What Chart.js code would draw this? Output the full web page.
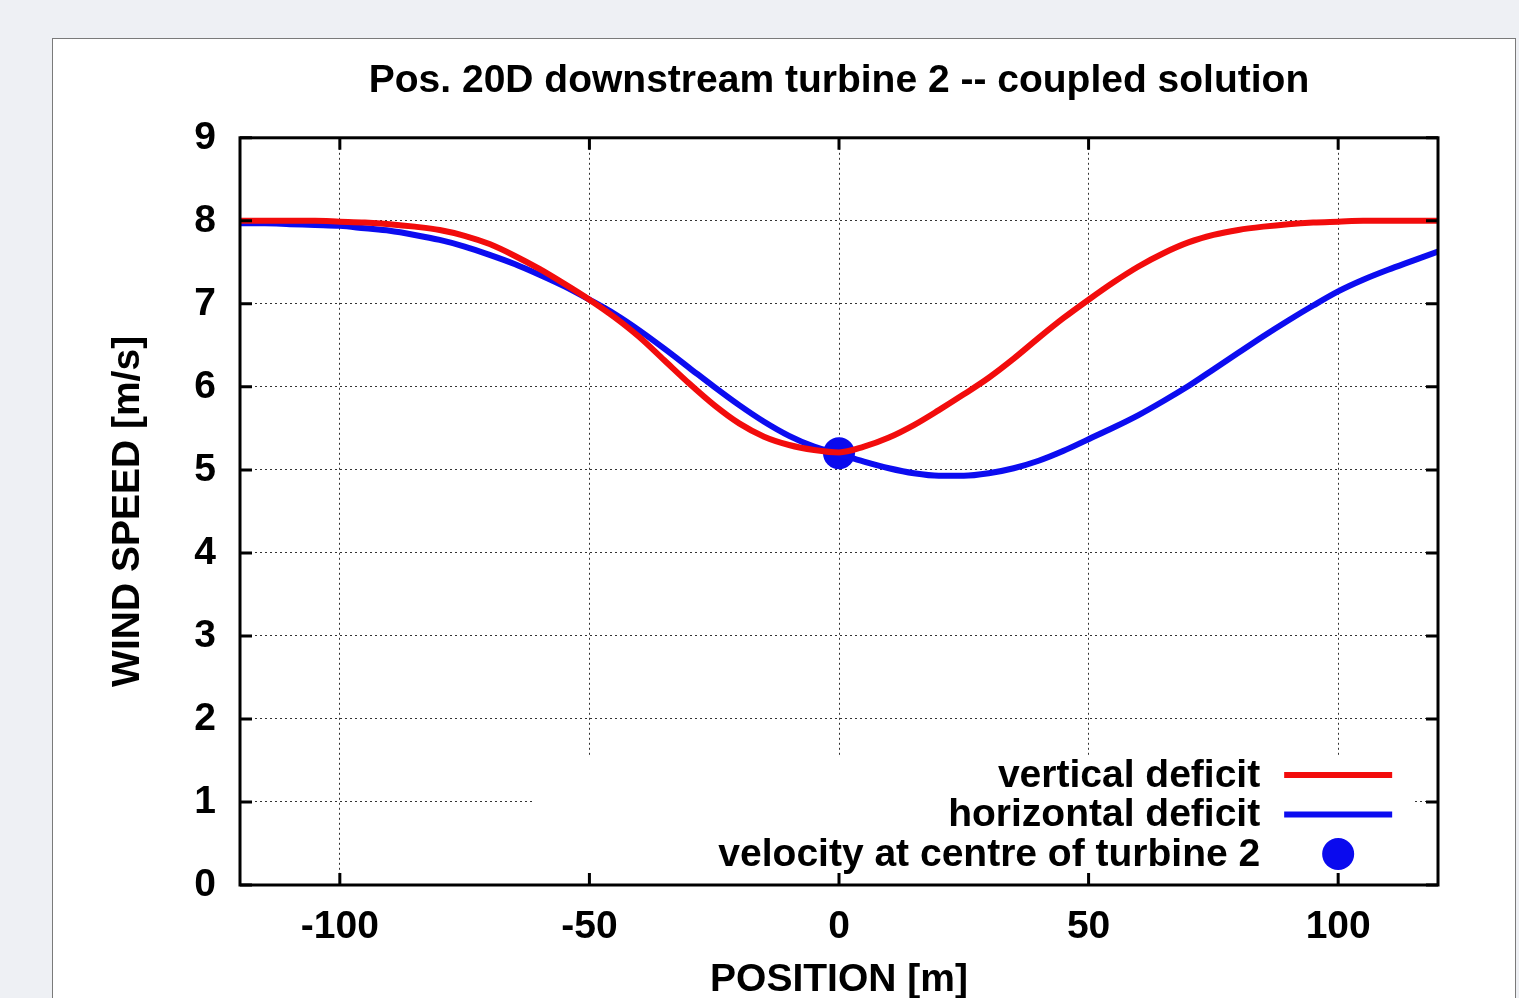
<!DOCTYPE html>
<html lang="en">
<head>
<meta charset="UTF-8">
<title>Pos. 20D downstream turbine 2 -- coupled solution</title>
<script src="https://cdn.jsdelivr.net/npm/chart.js"></script>
<style>
    body { margin: 0; background: #eef0f4; font-family: "Liberation Sans", Arial, sans-serif; }
    .folha { position: absolute; left: 52px; top: 38px; width: 1462px; height: 1000px; background: #fff; border: 1px solid #7a7a7a; }
    .grafico { position: absolute; left: 0; top: 0; width: 1519px; height: 998px; }
</style>
</head>
<body>
<div class="folha"></div>
<div class="grafico"><canvas id="perfil"></canvas></div>

<script>
    // values, every 5 m
    var posicoes = [-120, -115, -110, -105, -100, -95, -90, -85, -80, -75, -70, -65, -60, -55, -50, -45, -40, -35, -30, -25, -20, -15, -10, -5, 0,
        5, 10, 15, 20, 25, 30, 35, 40, 45, 50, 55, 60, 65, 70, 75, 80, 85, 90, 95, 100, 105, 110, 115, 120];
    var deficitVertical = [8.00, 8.00, 8.00, 8.00, 7.99, 7.98, 7.96, 7.93, 7.89, 7.82, 7.72, 7.58, 7.42, 7.24, 7.05, 6.84, 6.60, 6.32, 6.04, 5.78, 5.56, 5.40, 5.30, 5.24, 5.21,
        5.28, 5.39, 5.54, 5.72, 5.91, 6.11, 6.34, 6.59, 6.83, 7.05, 7.26, 7.45, 7.61, 7.74, 7.83, 7.89, 7.93, 7.96, 7.98, 7.99, 8.00, 8.00, 8.00, 8.00];
    var deficitHorizontal = [7.97, 7.97, 7.96, 7.95, 7.94, 7.91, 7.88, 7.83, 7.77, 7.69, 7.59, 7.48, 7.35, 7.21, 7.05, 6.88, 6.68, 6.46, 6.23, 6.00, 5.78, 5.58, 5.41, 5.28, 5.19,
        5.10, 5.02, 4.96, 4.93, 4.93, 4.96, 5.02, 5.11, 5.23, 5.37, 5.51, 5.66, 5.83, 6.01, 6.21, 6.41, 6.61, 6.80, 6.98, 7.15, 7.29, 7.41, 7.52, 7.63];
    var centroTurbina = [{ x: 0, y: 5.20 }];

    var ticksX = [-100, -50, 0, 50, 100];
    var ticksY = [0, 1, 2, 3, 4, 5, 6, 7, 8, 9];

    var fonte = '"Liberation Sans", Arial, sans-serif';

    function pares(xs, ys) {
        return xs.map(function (x, i) { return { x: x, y: ys[i] }; });
    }

    // moldura preta com ticks para dentro (estilo gnuplot)
    const moldura = {
        id: 'moldura',
        afterDraw(chart) {
            const ctx = chart.ctx;
            const a = chart.chartArea;
            const sx = chart.scales.x, sy = chart.scales.y;
            const t = 12;
            ctx.save();
            ctx.strokeStyle = '#000';
            ctx.lineWidth = 3;
            ctx.beginPath();
            ticksX.forEach(function (v) {
                const px = sx.getPixelForValue(v);
                ctx.moveTo(px, a.bottom); ctx.lineTo(px, a.bottom - t);
                ctx.moveTo(px, a.top); ctx.lineTo(px, a.top + t);
            });
            ticksY.forEach(function (v) {
                const py = sy.getPixelForValue(v);
                ctx.moveTo(a.left, py); ctx.lineTo(a.left + t, py);
                ctx.moveTo(a.right, py); ctx.lineTo(a.right - t, py);
            });
            ctx.stroke();
            ctx.strokeRect(a.left, a.top, a.right - a.left, a.bottom - a.top);
            ctx.restore();
        }
    };

    // legenda dentro do grafico, texto alinhado a direita e amostra a direita
    const legenda = {
        id: 'legenda',
        afterDatasetsDraw(chart) {
            const ctx = chart.ctx;
            const a = chart.chartArea;
            const sx = chart.scales.x;
            const itens = chart.data.datasets;
            const xAmostra = sx.getPixelForValue(100);
            const xTexto = xAmostra - 78;
            ctx.save();
            ctx.fillStyle = '#fff';
            ctx.fillRect(a.left + 292, a.bottom - 130, a.right - a.left - 317, 128);
            ctx.font = 'bold 39px ' + fonte;
            ctx.textAlign = 'right';
            ctx.textBaseline = 'middle';
            itens.forEach(function (d, i) {
                const y = a.bottom - 110 + i * 39.5;
                ctx.fillStyle = '#000';
                ctx.fillText(d.label, xTexto, y + 1);
                if (d.showLine === false) {
                    ctx.fillStyle = d.backgroundColor;
                    ctx.beginPath();
                    ctx.arc(xAmostra, y, d.pointRadius, 0, Math.PI * 2);
                    ctx.fill();
                } else {
                    ctx.strokeStyle = d.borderColor;
                    ctx.lineWidth = 6;
                    ctx.beginPath();
                    ctx.moveTo(xAmostra - 54, y);
                    ctx.lineTo(xAmostra + 54, y);
                    ctx.stroke();
                }
            });
            ctx.restore();
        }
    };

    new Chart(document.getElementById('perfil'), {
        type: 'line',
        data: {
            datasets: [
                {
                    label: 'vertical deficit',
                    data: pares(posicoes, deficitVertical),
                    borderColor: '#f20c0c',
                    backgroundColor: '#f20c0c',
                    borderWidth: 6,
                    pointRadius: 0,
                    cubicInterpolationMode: 'monotone',
                },
                {
                    label: 'horizontal deficit',
                    data: pares(posicoes, deficitHorizontal),
                    borderColor: '#0c0cf0',
                    backgroundColor: '#0c0cf0',
                    borderWidth: 6,
                    pointRadius: 0,
                    cubicInterpolationMode: 'monotone',
                },
                {
                    label: 'velocity at centre of turbine 2',
                    data: centroTurbina,
                    showLine: false,
                    pointRadius: 16,
                    pointBorderWidth: 0,
                    borderColor: '#0a0aee',
                    backgroundColor: '#0a0aee',
                },
            ],
        },
        options: {
            responsive: true,
            maintainAspectRatio: false,
            animation: false,
            layout: { padding: { left: 0, right: 81, top: 0, bottom: 0 } },
            plugins: {
                legend: { display: false },
                tooltip: { enabled: false },
                title: {
                    display: true,
                    fullSize: false,
                    text: 'Pos. 20D downstream turbine 2 -- coupled solution',
                    color: '#000',
                    font: { family: fonte, size: 39, weight: 'bold' },
                    padding: { top: 58, bottom: 33 },
                },
            },
            scales: {
                x: {
                    type: 'linear',
                    min: -120,
                    max: 120,
                    afterBuildTicks(scale) { scale.ticks = ticksX.map(function (v) { return { value: v }; }); },
                    afterFit(scale) { scale.height = 113; },
                    grid: { color: '#333', lineWidth: 1, drawTicks: false },
                    border: { display: false, dash: [2, 3] },
                    ticks: { color: '#000', padding: 19, maxRotation: 0, font: { family: fonte, size: 39, weight: 'bold' } },
                    title: { display: true, text: 'POSITION [m]', color: '#000', padding: { top: 0, bottom: -6 }, font: { family: fonte, size: 39, weight: 'bold' } },
                },
                y: {
                    min: 0,
                    max: 9,
                    afterBuildTicks(scale) { scale.ticks = ticksY.map(function (v) { return { value: v }; }); },
                    afterFit(scale) { scale.width = 240; },
                    grid: { color: '#333', lineWidth: 1, drawTicks: false },
                    border: { display: false, dash: [2, 3] },
                    ticks: { color: '#000', padding: 24, font: { family: fonte, size: 39, weight: 'bold' } },
                    title: { display: true, text: 'WIND SPEED [m/s]', color: '#000', padding: { top: 105, bottom: 0 }, font: { family: fonte, size: 39, weight: 'bold' } },
                },
            },
        },
        plugins: [legenda, moldura],
    });
</script>
</body>
</html>
